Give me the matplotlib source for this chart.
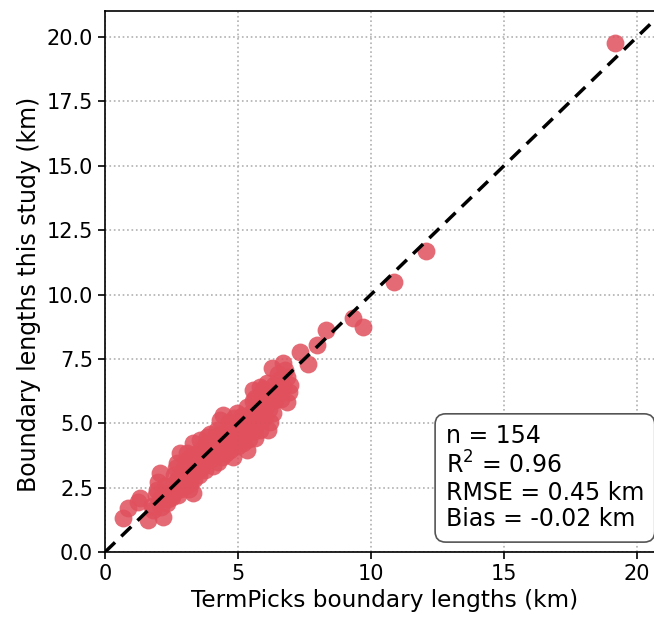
import numpy as np
import matplotlib
matplotlib.use("Agg")
import matplotlib.pyplot as plt

# TermPicks boundary lengths (km) vs boundary lengths from this study (km)
termpicks = [0.68, 0.86, 1.32, 1.25, 1.62, 1.80, 1.95, 2.00, 2.07, 1.90, 1.75, 2.18, 2.33, 2.52, 2.10, 2.25, 2.40, 2.05,
             2.70, 2.82, 3.20, 3.30, 3.08, 2.70, 2.93, 2.60, 2.55, 2.85, 3.00, 3.10, 3.25, 3.40, 3.45, 2.90, 3.15, 3.35, 2.65, 3.05, 3.50, 2.75, 3.20, 3.40, 3.00,
             3.57, 3.83, 3.30, 3.83, 4.44, 3.08, 3.60, 3.70, 3.90, 4.00, 4.10, 4.20, 4.30, 3.75, 3.55, 4.05, 4.40, 4.20, 4.44, 4.32, 3.95, 4.15, 3.65, 4.50, 4.25, 3.85, 4.35, 3.50,
             4.96, 5.34, 5.08, 4.70, 5.19, 5.34, 4.70, 4.80, 4.60, 4.90, 5.00, 5.10, 5.25, 5.40, 5.50, 4.75, 4.85, 5.34, 5.45, 4.60, 5.00, 5.15, 4.55, 5.30, 5.50, 4.90, 5.05,
             5.56, 5.83, 6.58, 6.20, 6.02, 6.20, 5.83, 6.13, 5.64, 5.70, 5.90, 6.00, 6.10, 5.75, 5.60, 6.30, 6.40, 6.28, 6.10, 5.65, 6.00, 5.80, 6.35, 5.95, 6.45, 5.55, 6.25,
             6.70, 6.84, 6.84, 6.95, 6.77, 6.55, 6.60, 6.90, 6.70, 6.50,
             7.33, 7.63, 7.98, 8.30, 9.32, 9.70, 10.86, 12.07, 19.17,
             2.35, 2.60, 3.60, 3.80, 4.10, 4.45, 4.65, 5.20, 5.60, 6.15]
this_study = [1.32, 1.71, 2.10, 1.95, 1.24, 1.63, 2.41, 2.72, 3.07, 2.20, 1.80, 1.36, 1.90, 2.14, 1.75, 2.55, 2.30, 2.05,
              3.46, 3.84, 3.69, 2.29, 2.68, 2.80, 3.18, 3.00, 2.60, 2.45, 3.30, 3.00, 3.40, 3.10, 3.60, 2.90, 2.45, 2.85, 3.25, 3.55, 3.30, 2.20, 2.70, 3.80, 2.55,
              4.35, 4.47, 4.23, 4.08, 4.35, 3.84, 3.70, 3.40, 3.90, 3.60, 4.20, 3.80, 4.05, 3.20, 3.00, 3.35, 3.70, 4.74, 5.32, 5.13, 4.60, 4.45, 3.95, 4.00, 3.50, 3.65, 4.60, 3.50,
              5.40, 5.13, 4.74, 4.85, 4.23, 3.96, 3.96, 3.70, 4.30, 4.50, 4.10, 5.00, 4.60, 4.40, 4.80, 4.60, 5.20, 5.63, 5.10, 4.55, 4.90, 5.30, 3.85, 4.85, 5.40, 4.20, 4.65,
              6.29, 6.41, 6.29, 5.83, 5.24, 5.05, 4.74, 4.74, 4.43, 5.00, 5.50, 6.00, 6.20, 5.70, 5.30, 5.40, 5.90, 7.15, 6.56, 6.00, 5.60, 5.15, 6.50, 6.35, 6.10, 5.85, 6.00,
              7.34, 6.80, 5.83, 6.49, 7.07, 6.70, 5.95, 6.20, 6.40, 6.90,
              7.77, 7.30, 8.04, 8.62, 9.09, 8.72, 10.49, 11.69, 19.77,
              2.05, 2.35, 3.25, 4.20, 3.85, 4.15, 5.05, 4.45, 4.70, 5.55]

stats_text = "n = 154\n$\\mathregular{R^2}$ = 0.96\nRMSE = 0.45 km\nBias = -0.02 km"

fig = plt.figure(figsize=(6.54, 6.17), dpi=100)
ax = fig.add_axes([0.1606, 0.1053, 0.854, 0.8764])

ax.scatter(termpicks, this_study, s=165, color='#e0505d', alpha=0.85, linewidths=0, zorder=3)
ax.plot([0, 21], [0, 21], color='black', linestyle='--', linewidth=2.5, dashes=(4, 2.5), zorder=4)

ax.set_xlim(0, 21)
ax.set_ylim(0, 21)
ax.set_xticks([0, 5, 10, 15, 20])
ax.set_yticks(np.arange(0, 20.1, 2.5))
ax.set_yticklabels([f"{v:.1f}" for v in np.arange(0, 20.1, 2.5)])
ax.grid(True, linestyle=':', color='#b0b0b0', linewidth=1.2)
ax.set_axisbelow(True)
ax.tick_params(labelsize=15, length=5, width=1.2)
for sp in ax.spines.values():
    sp.set_linewidth(1.2)

ax.set_xlabel('TermPicks boundary lengths (km)', fontsize=16.7)
ax.set_ylabel('Boundary lengths this study (km)', fontsize=17)
ax.yaxis.label.set_y(0.477)

ax.text(0.61, 0.038, stats_text, transform=ax.transAxes, fontsize=17,
        va='bottom', ha='left', linespacing=1.13, zorder=5,
        bbox=dict(boxstyle='round,pad=0.45', facecolor='white', edgecolor='#555555', linewidth=1.2))

fig.savefig('out.png', dpi=100)
